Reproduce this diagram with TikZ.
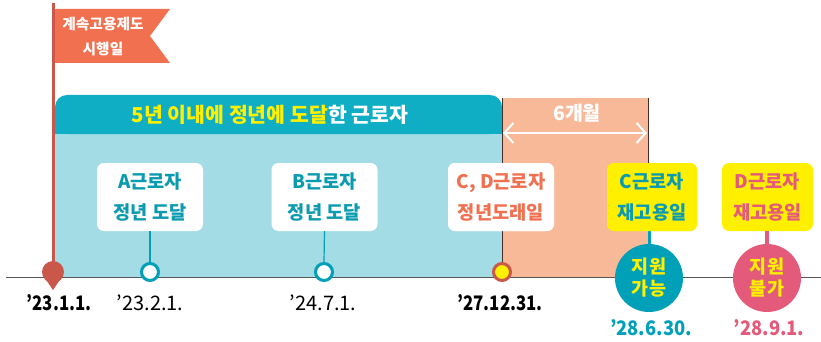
\documentclass[tikz,border=0pt]{standalone}
\usepackage{fontspec}
\setmainfont{Noto Sans CJK KR}
\usetikzlibrary{arrows.meta}
\definecolor{hdrteal}{RGB}{16,174,196}
\definecolor{lblue}{RGB}{163,220,229}
\definecolor{orng}{RGB}{248,185,152}
\definecolor{coral}{RGB}{240,112,80}
\definecolor{polered}{RGB}{201,87,74}
\definecolor{tealtxt}{RGB}{10,155,176}
\definecolor{yel}{RGB}{255,240,0}
\definecolor{pinkc}{RGB}{227,90,122}
\definecolor{tealc}{RGB}{0,160,185}
\definecolor{axisgray}{RGB}{85,85,85}
\definecolor{darkedge}{RGB}{70,45,40}
\tikzset{
  lbl/.style={rounded corners=7pt, minimum height=68pt, inner sep=0pt, align=center,
    font=\fontsize{18.7}{31}\selectfont\bfseries},
  whitebox/.style={lbl, fill=white, minimum width=106pt},
  yelbox/.style={lbl, fill=yel, minimum width=90pt},
  ring/.style={circle, minimum size=17pt, inner sep=0pt, line width=3pt},
  bigc/.style={circle, minimum size=68pt, inner sep=0pt, align=center, text=yel,
    font=\fontsize{18.5}{22}\selectfont\bfseries},
  datetxt/.style={font=\fontsize{20}{24}\selectfont, inner sep=0pt},
  datebold/.style={font=\fontsize{20}{24}\selectfont\bfseries, inner sep=0pt},
}
\begin{document}
\begin{tikzpicture}[x=1pt,y=-1pt]
\useasboundingbox (0,0) rectangle (821,342);
% regions
\fill[lblue] (55,120) rectangle (502,277);
\fill[orng] (502,98) rectangle (648,277);
\fill[hdrteal, rounded corners=12pt] (55,95) rectangle (502,134);
\fill[hdrteal] (55,118) rectangle (502,134);
\node[font=\fontsize{20.5}{22}\selectfont\bfseries, text=white] (hdr) at (270,115)
  {{\color{yel}5년 이내에 정년에 도달}한 근로자};
\node[font=\fontsize{19.5}{22}\selectfont\bfseries, text=white] (six) at (577,113) {6개월};
\coordinate (al) at (503,133);
\coordinate (ar) at (647,133);
\draw[white, line width=2pt, {Straight Barb[length=9pt,width=20pt]}-{Straight Barb[length=9pt,width=20pt]}] (al) -- (ar);
% axis
\coordinate (ax0) at (6,277);
\coordinate (ax1) at (821,277);
\draw[axisgray, line width=1pt] (ax0) -- (ax1);
% flag
\coordinate (poletop) at (53,3);
\coordinate (pin) at (53,272);
\draw[polered, line width=3pt] (poletop) -- (pin);
\fill[coral] (55,9) -- (170,9) -- (150,36) -- (170,63) -- (55,63) -- cycle;
\node[font=\fontsize{14.7}{25}\selectfont\bfseries, text=white, align=center] (flag) at (103,37)
  {계속고용제도\\시행일};
\fill[polered] (pin) circle (11pt);
\fill[polered] (43.5,276) -- (53,290) -- (62.5,276) -- cycle;
% boxes
\node[whitebox, text=tealtxt] (boxA) at (150,197) {A근로자\\정년 도달};
\node[whitebox, text=tealtxt] (boxB) at (324.5,197) {B근로자\\정년 도달};
\node[whitebox, text=coral] (boxCD) at (501,197) {C, D근로자\\정년도래일};
\node[yelbox, text=tealtxt] (boxC) at (652,197) {C근로자\\재고용일};
\node[yelbox, text=pinkc, minimum width=91pt] (boxD) at (767.5,197) {D근로자\\재고용일};
% markers
\node[ring, draw=tealc, fill=white] (mA) at (150,272) {};
\node[ring, draw=tealc, fill=white] (mB) at (324,272) {};
\node[ring, draw=polered, fill=yel] (mCD) at (502,272) {};
\node[bigc, fill=tealc] (mC) at (649,278) {지원\\가능};
\node[bigc, fill=pinkc] (mD) at (767,278) {지원\\불가};
% connectors
\draw[darkedge, line width=0.8pt] (502,98) -- (mCD.north);
\draw[darkedge, line width=0.8pt] (648,98) -- (648,163);
\draw[tealc, line width=1.2pt] (boxA.south) -- (mA.north);
\draw[tealc, line width=1.2pt] (boxB.south) -- (mB.north);
\draw[tealc, line width=3pt] (boxC.south -| mC.north) -- (mC.north);
\draw[pinkc, line width=4pt] (boxD.south -| mD.north) -- (mD.north);
% redraw boxes over edges
\node[whitebox, text=coral] at (501,197) {C, D근로자\\정년도래일};
\node[yelbox, text=tealtxt] at (652,197) {C근로자\\재고용일};
% dates
\node[datebold] (d1) at (59,303) {\scalebox{0.84}[1]{’23.1.1.}};
\node[datetxt] (d2) at (150,303) {’23.2.1.};
\node[datetxt] (d3) at (323,303) {’24.7.1.};
\node[datebold] (d4) at (500,303) {\scalebox{0.84}[1]{’27.12.31.}};
\node[datebold, text=tealc] (d5) at (651,328) {\scalebox{0.92}[1]{’28.6.30.}};
\node[datebold, text=pinkc] (d6) at (769,328) {\scalebox{0.92}[1]{’28.9.1.}};
\end{tikzpicture}
\end{document}
